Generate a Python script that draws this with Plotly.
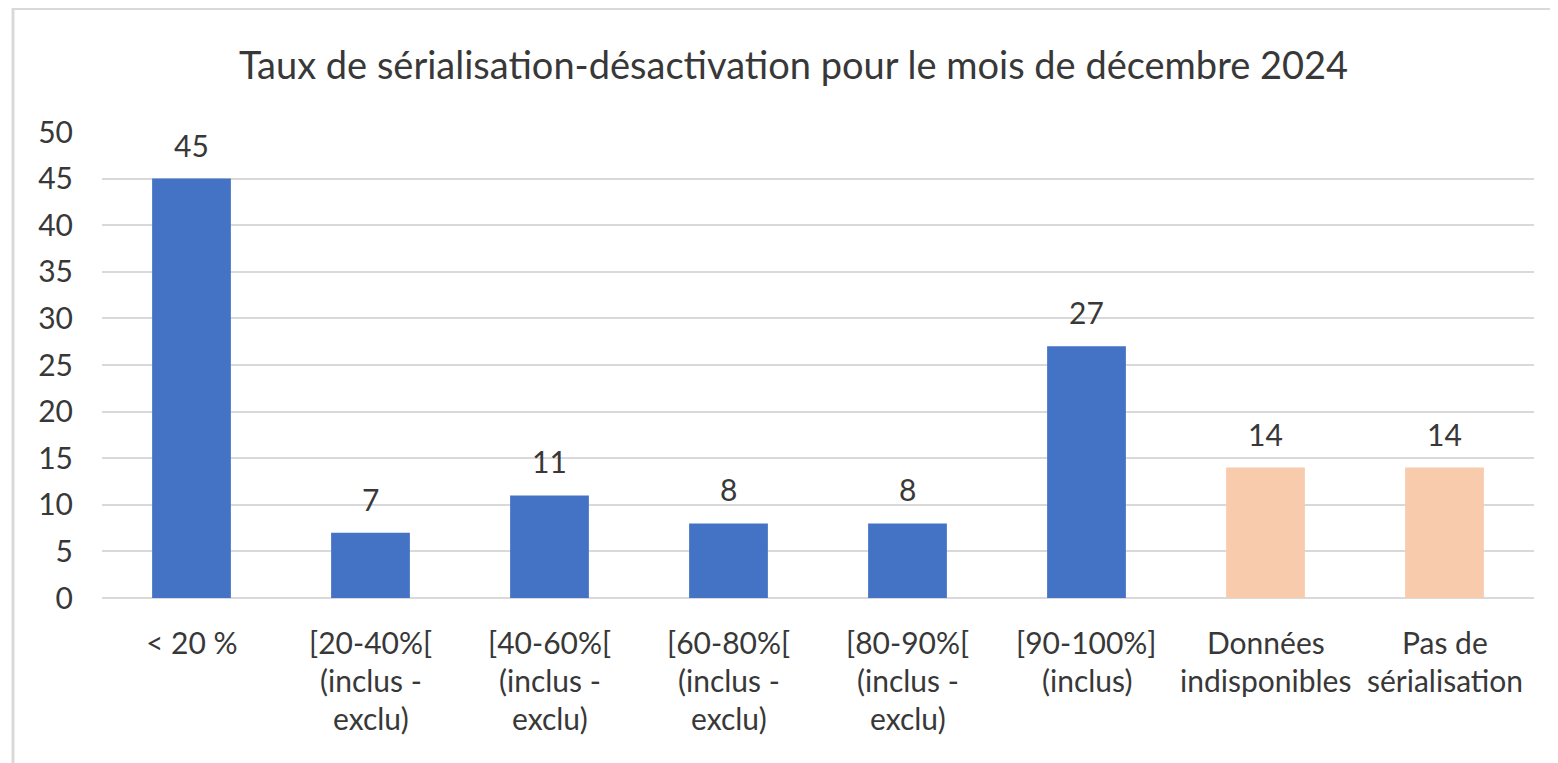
import plotly.graph_objects as go

categories = ["< 20 %", "[20-40%[<br>(inclus -<br>exclu)", "[40-60%[<br>(inclus -<br>exclu)",
              "[60-80%[<br>(inclus -<br>exclu)", "[80-90%[<br>(inclus -<br>exclu)",
              "[90-100%]<br>(inclus)", "Données<br>indisponibles", "Pas de<br>sérialisation"]
values = [45, 7, 11, 8, 8, 27, 14, 14]
bar_colors = ["#4472C4"] * 6 + ["#F8CBAD"] * 2
y_ticks = list(range(0, 51, 5))
title = "Taux de sérialisation-désactivation pour le mois de décembre 2024"

FONT = "Lato"
TXT = "#383838"
OFF = 8  # default page body margin
W, H = 1558 - OFF, 763 - OFF
L, R = 102 - OFF, 1558 - 1534
T, B = 132 - OFF, 763 - 598
pw, ph = W - L - R, H - T - B

def px_x(p):  # page pixel -> paper x
    return (p - OFF - L) / pw

def px_y(p):  # page pixel -> paper y
    return (H - B - (p - OFF)) / ph

fig = go.Figure()
fig.add_trace(go.Bar(x=list(range(len(categories))), y=values, marker_color=bar_colors,
                     marker_line_width=0, hoverinfo="skip"))

annotations = []
for i, (c, v) in enumerate(zip(categories, values)):
    annotations.append(dict(x=i, y=v, xref="x", yref="y", text=str(v), showarrow=False,
                            yanchor="middle", yshift=34, font=dict(family=FONT, size=30, color=TXT)))
    for j, line in enumerate(c.split("<br>")):
        annotations.append(dict(x=i, y=0, xref="x", yref="y", text=line, showarrow=False,
                                yanchor="middle", yshift=-(44 + 38 * j),
                                font=dict(family=FONT, size=30, color=TXT)))
annotations.append(dict(x=px_x(793), y=px_y(64), xref="paper", yref="paper",
                        text=title, showarrow=False, xanchor="center", yanchor="middle",
                        font=dict(family=FONT, size=38, color=TXT)))

fig.update_layout(
    width=W, height=H, margin=dict(l=L, r=R, t=T, b=B),
    paper_bgcolor="white", plot_bgcolor="white", showlegend=False,
    bargap=0.56,
    annotations=annotations,
    xaxis=dict(range=[-0.5, len(categories) - 0.5], showticklabels=False, showgrid=False,
               zeroline=False, showline=False, fixedrange=True),
    yaxis=dict(range=[0, 50], tickvals=y_ticks, showgrid=True, gridcolor="#D9D9D9", gridwidth=2,
               zeroline=True, zerolinecolor="#D9D9D9", zerolinewidth=2, showline=False,
               tickfont=dict(family=FONT, size=30, color=TXT), ticks="", ticklabelstandoff=28),
    shapes=[dict(type="rect", xref="paper", yref="paper",
                 x0=px_x(13), x1=px_x(1580), y0=px_y(790), y1=px_y(8.5),
                 line=dict(color="#D9D9D9", width=3), fillcolor="rgba(0,0,0,0)", layer="below")],
)
fig.write_html("out.html")
